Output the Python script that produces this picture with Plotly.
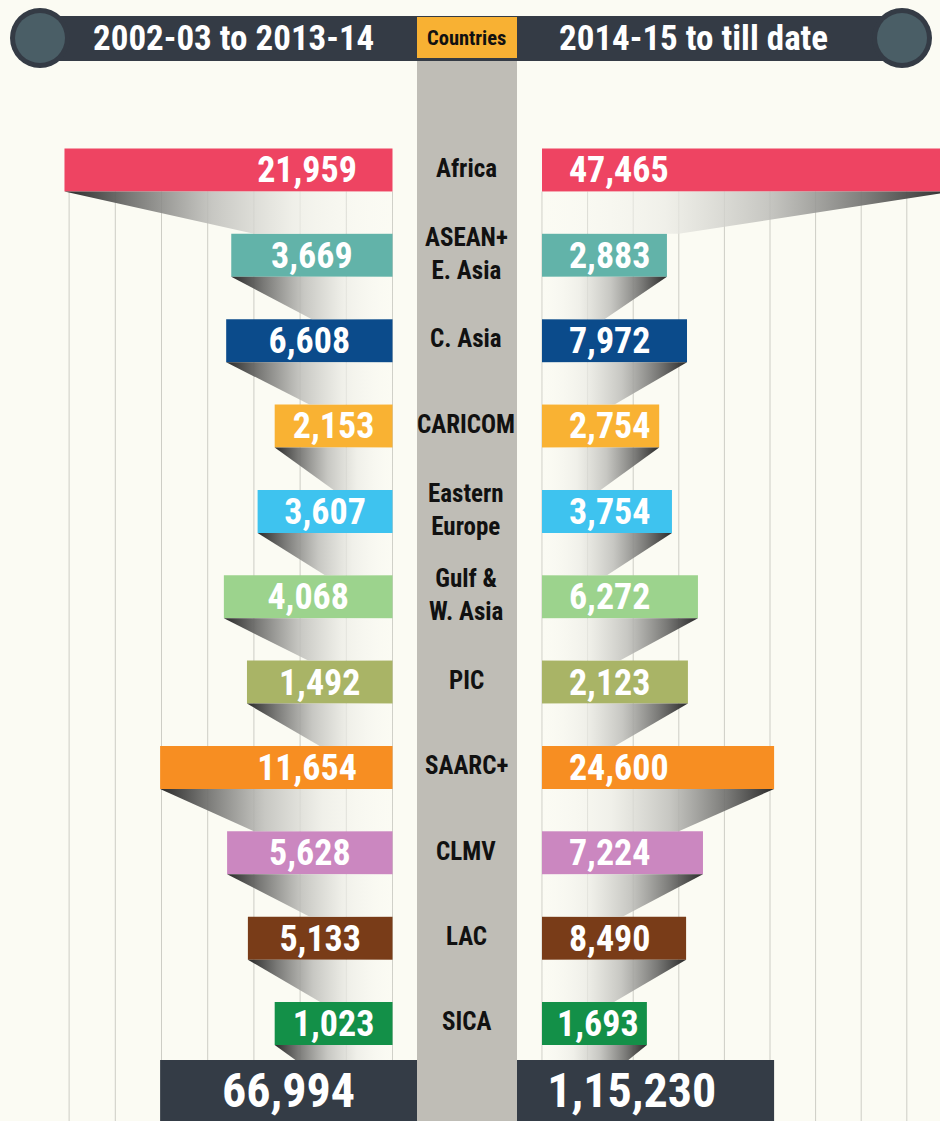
import plotly.graph_objects as go

# ---------------- data ----------------
countries = ["Africa", "ASEAN+<br>E. Asia", "C. Asia", "CARICOM", "Eastern<br>Europe",
             "Gulf &<br>W. Asia", "PIC", "SAARC+", "CLMV", "LAC", "SICA"]
period_left = "2002-03 to 2013-14"
period_right = "2014-15 to till date"
column_title = "Countries"
values_left = [21959, 3669, 6608, 2153, 3607, 4068, 1492, 11654, 5628, 5133, 1023]
values_right = [47465, 2883, 7972, 2754, 3754, 6272, 2123, 24600, 7224, 8490, 1693]
total_left = 66994
total_right = 115230
# the infographic is not drawn to scale: drawn bar lengths (grid-column units)
drawn_left = [7.10, 3.49, 3.60, 2.55, 2.92, 3.65, 3.15, 5.03, 3.58, 3.13, 2.55]
drawn_right = [9.00, 2.74, 3.18, 2.57, 2.85, 3.42, 3.20, 5.09, 3.53, 3.16, 2.30]
drawn_total_left = 5.03
drawn_total_right = 5.09

colors = ["#ee4462", "#62b3a9", "#0b4b8b", "#f9b233", "#3ec3ef", "#9cd38d",
          "#a9b466", "#f78e22", "#cb87c0", "#793c18", "#139048"]
total_color = "#343c46"
bg = "#fbfbf3"

W, H = 940, 1121
FONT = "Roboto Condensed, Liberation Sans Narrow, DejaVu Sans Condensed, Roboto, sans-serif"


def indian(n):
    s = str(n)
    if len(s) <= 3:
        return s
    head, tail = s[:-3], s[-3:]
    parts = []
    while len(head) > 2:
        parts.insert(0, head[-2:])
        head = head[:-2]
    if head:
        parts.insert(0, head)
    return ",".join(parts + [tail])


def px(x):
    return x / W


def py(y):
    return 1 - y / H


rows = list(range(len(countries)))
total_row = len(countries)
bar_w = 0.504
total_w = 1.146

# axis geometry (pixel layout)
L_UNIT, L_ZERO = 46.2, 392.5
R_UNIT, R_ZERO = 45.6, 542.0
col_l, col_r = 417, 517
x_range_left = [(L_ZERO - 0) / L_UNIT, (L_ZERO - col_l) / L_UNIT]
x_range_right = [(col_r - R_ZERO) / R_UNIT, (W - R_ZERO) / R_UNIT]
ROW0, ROWSTEP = 170.0, 85.35
y_range = [(H - ROW0) / ROWSTEP, (0 - ROW0) / ROWSTEP]

fig = go.Figure()

grad_scale = [[0, "rgba(251,251,245,0.15)"], [0.3, "rgba(236,236,230,0.75)"],
              [0.55, "rgba(190,190,186,0.85)"], [0.8, "rgba(110,110,108,0.92)"],
              [1, "rgba(35,35,35,0.97)"]]


def shadow_end(L):
    return 3.0 if L > 4.5 else L / 2


# shadows between consecutive bars
for side, drawn, xa in (("L", drawn_left, "x"), ("R", drawn_right, "x2")):
    n = len(drawn)
    for i in range(n):
        L = drawn[i]
        yb = rows[i] + bar_w / 2
        if i < n - 1:
            yt = rows[i + 1] - bar_w / 2
        else:
            yt = total_row - total_w / 2
        normal_gap = 1 - bar_w
        frac = min(1.0, (yt - yb) / normal_gap)
        end = L - (L - shadow_end(L)) * frac
        fig.add_trace(go.Scatter(
            x=[L, 0, 0, end, L], y=[yb, yb, yt, yt, yb],
            mode="none", fill="toself", xaxis=xa, yaxis="y",
            fillgradient=dict(type="horizontal", colorscale=grad_scale, start=0, stop=L),
            hoverinfo="skip", showlegend=False))

# bars
fig.add_trace(go.Bar(y=rows, x=drawn_left, orientation="h", width=bar_w,
                     marker=dict(color=colors, line=dict(width=0)),
                     xaxis="x", yaxis="y", showlegend=False, hoverinfo="skip"))
fig.add_trace(go.Bar(y=rows, x=drawn_right, orientation="h", width=bar_w,
                     marker=dict(color=colors, line=dict(width=0)),
                     xaxis="x2", yaxis="y", showlegend=False, hoverinfo="skip"))
# totals
fig.add_trace(go.Bar(y=[total_row], x=[drawn_total_left - x_range_left[1]], base=x_range_left[1],
                     orientation="h", width=total_w, marker=dict(color=total_color, line=dict(width=0)),
                     xaxis="x", yaxis="y", showlegend=False, hoverinfo="skip"))
fig.add_trace(go.Bar(y=[total_row], x=[drawn_total_right - x_range_right[0]], base=x_range_right[0],
                     orientation="h", width=total_w, marker=dict(color=total_color, line=dict(width=0)),
                     xaxis="x2", yaxis="y", showlegend=False, hoverinfo="skip"))

# value labels
text_dy = 0.04
fig.add_trace(go.Scatter(
    x=[min(L / 2, 1.85) for L in drawn_left], y=[r + text_dy for r in rows], mode="text",
    text=[indian(v) for v in values_left], textposition="middle center",
    textfont=dict(family=FONT, size=36, color="white", weight="bold"),
    xaxis="x", yaxis="y", showlegend=False, hoverinfo="skip", cliponaxis=False))
text_w_units = 1.73
fig.add_trace(go.Scatter(
    x=[min(0.59, L - 0.24 - text_w_units) for L in drawn_right], y=[r + text_dy for r in rows],
    mode="text", text=[indian(v) for v in values_right], textposition="middle right",
    textfont=dict(family=FONT, size=36, color="white", weight="bold"),
    xaxis="x2", yaxis="y", showlegend=False, hoverinfo="skip", cliponaxis=False))
fig.add_trace(go.Scatter(
    x=[(drawn_total_left + x_range_left[1]) / 2], y=[total_row - 0.16], mode="text",
    text=[indian(total_left)], textposition="middle center",
    textfont=dict(family=FONT, size=48, color="white", weight="bold"),
    xaxis="x", yaxis="y", showlegend=False, hoverinfo="skip", cliponaxis=False))
fig.add_trace(go.Scatter(
    x=[(drawn_total_right + x_range_right[0]) / 2 - 0.3], y=[total_row - 0.16], mode="text",
    text=[indian(total_right)], textposition="middle center",
    textfont=dict(family=FONT, size=48, color="white", weight="bold"),
    xaxis="x2", yaxis="y", showlegend=False, hoverinfo="skip", cliponaxis=False))

shapes = []
# center column
shapes.append(dict(type="rect", xref="paper", yref="paper", x0=px(col_l), x1=px(col_r),
                   y0=0, y1=py(58), fillcolor="#bfbdb6", line=dict(width=0), layer="below"))
# grid lines
for k in range(8):
    shapes.append(dict(type="line", xref="x", yref="y", x0=k, x1=k, y0=bar_w / 2, y1=y_range[0],
                       line=dict(color="#cdcdc5", width=1), layer="below"))
for k in range(9):
    shapes.append(dict(type="line", xref="x2", yref="y", x0=k, x1=k, y0=bar_w / 2, y1=y_range[0],
                       line=dict(color="#cdcdc5", width=1), layer="below"))
# header band
shapes.append(dict(type="rect", xref="paper", yref="paper", x0=px(40), x1=px(902),
                   y0=py(61), y1=py(16), fillcolor="#343b45", line=dict(width=0), layer="above"))
for cx in (40, 902):
    shapes.append(dict(type="circle", xref="paper", yref="paper", x0=px(cx - 30), x1=px(cx + 30),
                       y0=py(68), y1=py(8), fillcolor="#343b45", line=dict(width=0), layer="above"))
    shapes.append(dict(type="circle", xref="paper", yref="paper", x0=px(cx - 25), x1=px(cx + 25),
                       y0=py(63), y1=py(13), fillcolor="#4a5e66", line=dict(width=0), layer="above"))
shapes.append(dict(type="rect", xref="paper", yref="paper", x0=px(col_l), x1=px(col_r),
                   y0=py(58), y1=py(17), fillcolor="#f8b133", line=dict(width=0), layer="above"))

annotations = []
hdr = dict(xref="paper", yref="paper", showarrow=False, xanchor="center", yanchor="middle")
annotations.append(dict(hdr, x=px(233), y=py(39), text=period_left,
                        font=dict(family=FONT, size=35, color="white", weight="bold")))
annotations.append(dict(hdr, x=px(693), y=py(39), text=period_right,
                        font=dict(family=FONT, size=35, color="white", weight="bold")))
annotations.append(dict(hdr, x=px(466), y=py(38), text=column_title,
                        font=dict(family=FONT, size=20.5, color="#111111", weight="bold")))
for r, name in zip(rows, countries):
    annotations.append(dict(xref="paper", yref="y", x=px(466), y=r - 0.02, text=name, showarrow=False,
                            align="center", xanchor="center", yanchor="middle",
                            font=dict(family=FONT, size=25, color="#111111", weight="bold")))

fig.update_layout(
    width=W, height=H, margin=dict(l=0, r=0, t=0, b=0),
    paper_bgcolor=bg, plot_bgcolor="rgba(0,0,0,0)",
    barmode="overlay", showlegend=False,
    xaxis=dict(domain=[0, px(col_l)], range=x_range_left, showgrid=False, zeroline=False,
               showticklabels=False, fixedrange=True),
    xaxis2=dict(domain=[px(col_r), 1], range=x_range_right, showgrid=False, zeroline=False,
                showticklabels=False, fixedrange=True),
    yaxis=dict(range=y_range, showgrid=False, zeroline=False, showticklabels=False, fixedrange=True),
    shapes=shapes, annotations=annotations,
)

fig.write_html("out.html", config={"displayModeBar": False},
               post_script="document.body.style.margin='0px';")
